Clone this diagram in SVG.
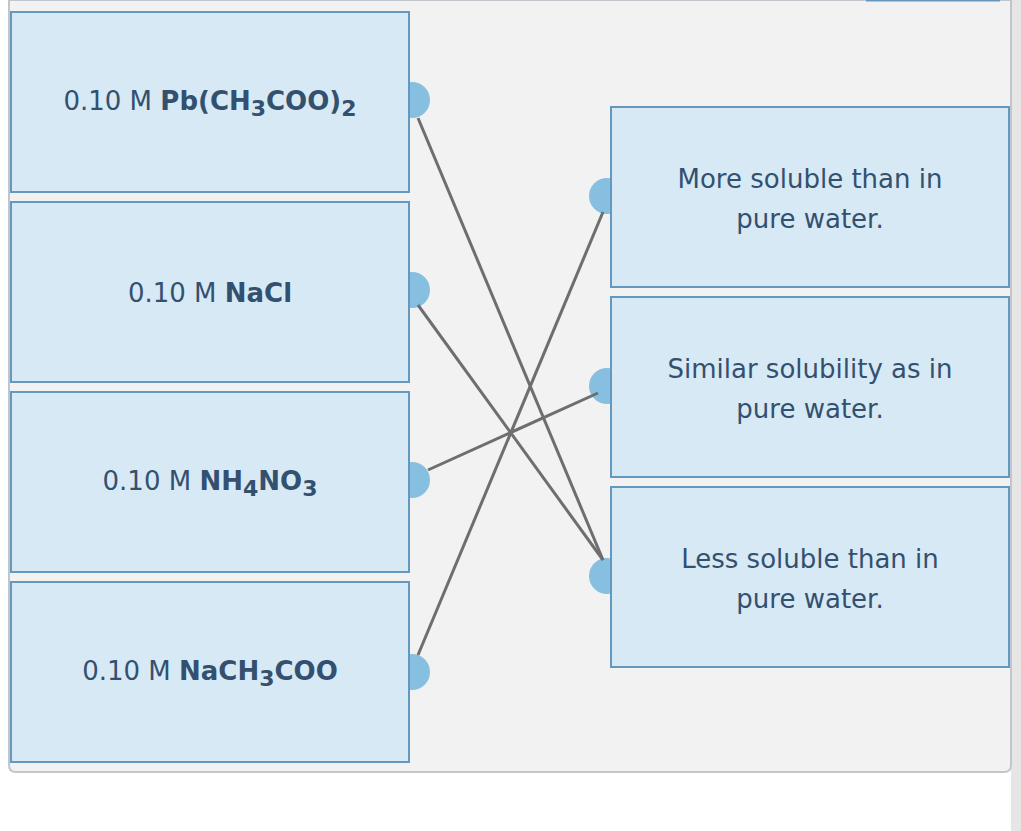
<svg xmlns="http://www.w3.org/2000/svg" width="1021" height="831" viewBox="0 0 1021 831">
<style>
.box{fill:#d6e9f5;stroke:#6598bf;stroke-width:2}
.h{fill:#86bfdf}
.t{font-family:"DejaVu Sans",Verdana,sans-serif;font-size:26px;fill:#34506f}
.b{font-weight:bold}
.c line{stroke:#6e6e6e;stroke-width:3}
</style>
<rect width="1021" height="831" fill="#fff"/>
<rect x="1011" y="0" width="10" height="831" fill="#e6e6e6"/>
<path d="M9,0 V765 Q9,772 16,772 H1004 Q1011,772 1011,765 V0 Z" fill="#f2f2f2" stroke="#c0c6cc" stroke-width="2"/>
<line x1="866" y1="0" x2="1000" y2="0" stroke="#6598bf" stroke-width="3"/>
<g id="handles">
<circle class="h" cx="412" cy="100" r="18"/><circle class="h" cx="412" cy="290" r="18"/>
<circle class="h" cx="412" cy="480" r="18"/><circle class="h" cx="412" cy="672" r="18"/>
<circle class="h" cx="607" cy="196" r="18"/><circle class="h" cx="607" cy="386" r="18"/>
<circle class="h" cx="607" cy="576" r="18"/>
</g>
<g id="n1"><rect class="box" x="11" y="12" width="398" height="180"/>
<text class="t" x="210" y="110" text-anchor="middle">0.10 M <tspan class="b">Pb(CH<tspan font-size="22" dy="6">3</tspan><tspan dy="-6">COO)</tspan><tspan font-size="22" dy="6">2</tspan></tspan></text></g>
<g id="n2"><rect class="box" x="11" y="202" width="398" height="180"/>
<text class="t" x="210" y="302" text-anchor="middle">0.10 M <tspan class="b">NaCl</tspan></text></g>
<g id="n3"><rect class="box" x="11" y="392" width="398" height="180"/>
<text class="t" x="210" y="490" text-anchor="middle">0.10 M <tspan class="b">NH<tspan font-size="22" dy="6">4</tspan><tspan dy="-6">NO</tspan><tspan font-size="22" dy="6">3</tspan></tspan></text></g>
<g id="n4"><rect class="box" x="11" y="582" width="398" height="180"/>
<text class="t" x="210" y="680" text-anchor="middle">0.10 M <tspan class="b">NaCH<tspan font-size="22" dy="6">3</tspan><tspan dy="-6">COO</tspan></tspan></text></g>
<g id="r1"><rect class="box" x="611" y="107" width="398" height="180"/>
<text class="t" text-anchor="middle"><tspan x="810" y="188">More soluble than in</tspan><tspan x="810" y="228">pure water.</tspan></text></g>
<g id="r2"><rect class="box" x="611" y="297" width="398" height="180"/>
<text class="t" text-anchor="middle"><tspan x="810" y="378">Similar solubility as in</tspan><tspan x="810" y="418">pure water.</tspan></text></g>
<g id="r3"><rect class="box" x="611" y="487" width="398" height="180"/>
<text class="t" text-anchor="middle"><tspan x="810" y="568">Less soluble than in</tspan><tspan x="810" y="608">pure water.</tspan></text></g>
<g class="c" id="connectors">
<line x1="418" y1="118" x2="603" y2="560"/>
<line x1="418" y1="305" x2="603" y2="560"/>
<line x1="428" y1="470" x2="598" y2="393"/>
<line x1="418" y1="655" x2="603" y2="212"/>
</g>
</svg>
